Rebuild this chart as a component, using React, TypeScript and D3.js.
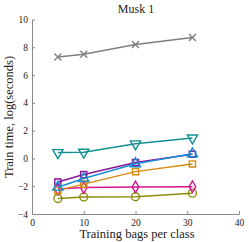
// App.tsx
import React, { useEffect, useRef } from 'react';
import * as d3 from 'd3';

const bagsPerClass = [5, 10, 20, 31];
const xTicks = [0, 10, 20, 30, 40];
const yTicks = [-4, -2, 0, 2, 4, 6, 8, 10];

const grayTimes = [7.3, 7.5, 8.2, 8.7];
const tealTimes = [0.42, 0.45, 1.05, 1.47];
const purpleTimes = [-1.7, -1.16, -0.3, 0.3];
const blueTimes = [-2.07, -1.45, -0.38, 0.33];
const orangeTimes = [-2.3, -1.85, -0.95, -0.4];
const magentaTimes = [-2.2, -2.1, -2.05, -2.03];
const oliveTimes = [-2.88, -2.78, -2.76, -2.5];

const series = [
  { name: 'gray', values: grayTimes, color: '#7f7f7f', marker: 'x' },
  { name: 'teal', values: tealTimes, color: '#139090', marker: 'down' },
  { name: 'olive', values: oliveTimes, color: '#8c8c0a', marker: 'circle' },
  { name: 'magenta', values: magentaTimes, color: '#d4168f', marker: 'diamond' },
  { name: 'orange', values: orangeTimes, color: '#d68c0c', marker: 'square' },
  { name: 'purple', values: purpleTimes, color: '#8c1496', marker: 'square' },
  { name: 'blue', values: blueTimes, color: '#1a8ed4', marker: 'up' },
];

const FONT = '"Liberation Serif", "DejaVu Serif", serif';

const App = () => {
  const svgRef = useRef<SVGSVGElement>(null);

  useEffect(() => {
    const svg = d3.select(svgRef.current);
    svg.selectAll('*').remove();

    const x = d3.scaleLinear().domain([0, 40]).range([32, 239]);
    const y = d3.scaleLinear().domain([-4, 10]).range([214, 19.5]);

    const axisColor = '#8a8a8a';

    // x axis
    const xAxis = svg.append('g').attr('transform', `translate(0,${y(-4)})`);
    xAxis
      .call(d3.axisBottom(x).tickValues(xTicks).tickSizeInner(-3).tickSizeOuter(0).tickPadding(5))
      .call((g) => g.select('.domain').attr('stroke', axisColor))
      .call((g) => g.selectAll('.tick line').attr('stroke', axisColor))
      .call((g) =>
        g.selectAll('.tick text').attr('fill', '#222').style('font-family', FONT).style('font-size', '9.5px'),
      );

    // y axis
    const yAxis = svg.append('g').attr('transform', `translate(${x(0)},0)`);
    yAxis
      .call(d3.axisLeft(y).tickValues(yTicks).tickSizeInner(-3).tickSizeOuter(0).tickPadding(4))
      .call((g) => g.select('.domain').attr('stroke', axisColor))
      .call((g) => g.selectAll('.tick line').attr('stroke', axisColor))
      .call((g) =>
        g.selectAll('.tick text').attr('fill', '#222').style('font-family', FONT).style('font-size', '9.5px'),
      );

    const line = d3
      .line<number>()
      .x((_, i) => x(bagsPerClass[i]))
      .y((d) => y(d));

    const symbolFor = (m: string) => {
      if (m === 'x') return d3.symbol(d3.symbolX, 34)();
      if (m === 'circle') return d3.symbol(d3.symbolCircle, 50)();
      if (m === 'diamond') return d3.symbol(d3.symbolDiamond, 38)();
      if (m === 'square') return d3.symbol(d3.symbolSquare, 38)();
      return d3.symbol(d3.symbolTriangle, 46)();
    };

    series.forEach((s) => {
      const g = svg.append('g');
      g.append('path')
        .attr('d', line(s.values))
        .attr('fill', 'none')
        .attr('stroke', s.color)
        .attr('stroke-width', 1.5);

      g.selectAll('.marker')
        .data(s.values)
        .enter()
        .append('path')
        .attr('class', 'marker')
        .attr('d', symbolFor(s.marker))
        .attr('transform', (d, i) => {
          const rot = s.marker === 'down' ? ' rotate(180)' : '';
          return `translate(${x(bagsPerClass[i])},${y(d)})${rot}`;
        })
        .attr('fill', 'none')
        .attr('stroke', s.color)
        .attr('stroke-width', 1.4);
    });

    // title
    svg
      .append('text')
      .attr('x', 136)
      .attr('y', 13)
      .attr('text-anchor', 'middle')
      .style('font-family', FONT)
      .style('font-size', '12px')
      .attr('fill', '#222')
      .text('Musk 1');

    // x label
    svg
      .append('text')
      .attr('x', 137)
      .attr('y', 238)
      .attr('text-anchor', 'middle')
      .style('font-family', FONT)
      .style('font-size', '12.5px')
      .attr('fill', '#222')
      .text('Training bags per class');

    // y label
    svg
      .append('text')
      .attr('transform', 'translate(13,117) rotate(-90)')
      .attr('text-anchor', 'middle')
      .style('font-family', FONT)
      .style('font-size', '12.5px')
      .attr('fill', '#222')
      .text('Train time, log(seconds)');
  }, []);

  return (
    <svg
      ref={svgRef}
      width={249}
      height={242}
      style={{ position: 'absolute', left: 0, top: 0, background: 'white' }}
    />
  );
};

export default App;
